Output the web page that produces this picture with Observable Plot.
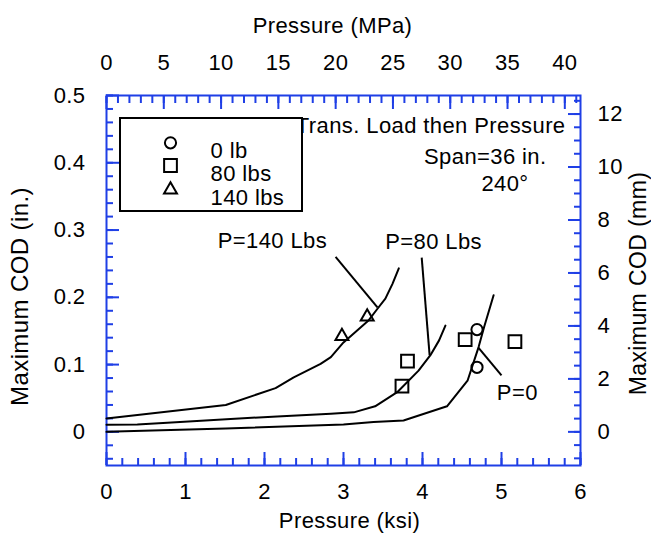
<!DOCTYPE html>
<html><head><meta charset="utf-8">
<script src="https://cdn.jsdelivr.net/npm/d3@7"></script>
<script src="https://cdn.jsdelivr.net/npm/@observablehq/plot@0.6"></script>
<style>body{margin:0;background:#fff} svg{display:block}</style>
</head><body><div id="chart"></div>
<script>
// ---- data ----
const curveP0X   = [0, 1.51, 3.00, 3.38, 3.76, 4.31, 4.57, 4.71, 4.78, 4.90];
const curveP0Y   = [0.0, 0.005, 0.011, 0.0145, 0.017, 0.038, 0.076, 0.126, 0.156, 0.203];
const curveP80X  = [0, 0.39, 0.77, 2.16, 2.84, 3.13, 3.40, 3.68, 3.95, 4.10, 4.21, 4.29];
const curveP80Y  = [0.0105, 0.011, 0.0135, 0.023, 0.027, 0.029, 0.038, 0.059, 0.091, 0.114, 0.136, 0.158];
const curveP140X = [0, 1.51, 2.14, 2.37, 2.71, 2.84, 3.00, 3.32, 3.43, 3.53, 3.62, 3.70];
const curveP140Y = [0.020, 0.040, 0.065, 0.081, 0.101, 0.111, 0.133, 0.166, 0.183, 0.198, 0.220, 0.243];

const load0X   = [4.69, 4.69];
const load0Y   = [0.152, 0.096];
const load80X  = [3.74, 3.81, 4.54, 5.17];
const load80Y  = [0.068, 0.105, 0.137, 0.134];
const load140X = [2.98, 3.30];
const load140Y = [0.142, 0.171];

const legendLabels = ["0 lb", "80 lbs", "140 lbs"];
const annLabels = ["P=140 Lbs", "P=80 Lbs", "P=0"];
const annX = [2.10, 4.14, 5.20];
const annY = [0.2845, 0.2816, 0.0585];
const leadX1 = [2.90, 3.99, 4.71], leadY1 = [0.260, 0.259, 0.125];
const leadX2 = [3.43, 4.09, 5.00], leadY2 = [0.185, 0.114, 0.084];
const noteLines = ["Trans. Load then Pressure", "Span=36 in.", "240°"];

const ksiTicks = [0, 1, 2, 3, 4, 5, 6];
const inTicks = [0, 0.1, 0.2, 0.3, 0.4, 0.5];
const mpaTicks = [0, 5, 10, 15, 20, 25, 30, 35, 40];
const mmTicks = [0, 2, 4, 6, 8, 10, 12];

// ---- derived ----
const MPA = 6.894757, MM = 25.4;
const ksiMinor = d3.range(0, 6.001, 0.2);
const inMinor = d3.range(-0.04, 0.501, 0.02);
const mpaMinor = d3.range(0, 41.5, 1);
const mmMinor = d3.range(-1, 12.51, 0.5);

const rows = [];
[["P=0", curveP0X, curveP0Y], ["P=80", curveP80X, curveP80Y], ["P=140", curveP140X, curveP140Y]]
  .forEach(([s, xs, ys]) => xs.forEach((x, i) => rows.push({s, x, y: ys[i]})));
const pts = (xs, ys) => xs.map((x, i) => ({x, y: ys[i]}));
const ann = annLabels.map((t, i) => ({t, x: annX[i], y: annY[i]}));
const leads = leadX1.map((x1, i) => ({x1, y1: leadY1[i], x2: leadX2[i], y2: leadY2[i]}));

const BLUE = "#1f3fe6";
const FONT = "'Liberation Sans', Arial, Helvetica, sans-serif";
const FS = 22;
const sym = {circle: {symbol: "circle", r: 5.6}, square: {symbol: "square", r: 7.2}, triangle: {symbol: "triangle", r: 4.8}};
const symList = [sym.circle, sym.square, sym.triangle];
const blank = () => "";

const marks = [
  // ticks (inward)
  Plot.axisX(ksiMinor, {anchor: "bottom", tickSize: -7, tickFormat: blank, stroke: BLUE, strokeWidth: 2, label: null}),
  Plot.axisX(ksiTicks, {anchor: "bottom", tickSize: -13, tickFormat: blank, stroke: BLUE, strokeWidth: 2, label: null}),
  Plot.axisY(inMinor, {anchor: "left", tickSize: -7, tickFormat: blank, stroke: BLUE, strokeWidth: 2, label: null}),
  Plot.axisY(inTicks, {anchor: "left", tickSize: -13, tickFormat: blank, stroke: BLUE, strokeWidth: 2, label: null}),
  Plot.axisX(mpaMinor.map(m => m / MPA), {anchor: "top", tickSize: -7, tickFormat: blank, stroke: BLUE, strokeWidth: 2, label: null}),
  Plot.axisX(mpaTicks.map(m => m / MPA), {anchor: "top", tickSize: -13, tickFormat: blank, stroke: BLUE, strokeWidth: 2, label: null}),
  Plot.axisY(mmMinor.map(m => m / MM), {anchor: "right", tickSize: -7, tickFormat: blank, stroke: BLUE, strokeWidth: 2, label: null}),
  Plot.axisY(mmTicks.map(m => m / MM), {anchor: "right", tickSize: -13, tickFormat: blank, stroke: BLUE, strokeWidth: 2, label: null}),
  // tick labels
  Plot.axisX(ksiTicks, {anchor: "bottom", tickSize: 0, tickPadding: 17.5, tickFormat: d => String(d), fill: "black", label: null, fontSize: FS}),
  Plot.axisY(inTicks, {anchor: "left", tickSize: 0, tickPadding: 21, tickFormat: d => String(d), fill: "black", label: null, fontSize: FS}),
  Plot.axisX(mpaTicks.map(m => m / MPA), {anchor: "top", tickSize: 0, tickPadding: 26, tickFormat: d => String(Math.round(d * MPA)), fill: "black", label: null, fontSize: FS}),
  Plot.axisY(mmTicks.map(m => m / MM), {anchor: "right", tickSize: 0, tickPadding: 17, tickFormat: d => String(Math.round(d * MM)), fill: "black", label: null, fontSize: FS}),
  Plot.frame({stroke: BLUE, strokeWidth: 2}),
  // axis titles
  Plot.text(["Pressure (ksi)"], {frameAnchor: "bottom", dx: 6, dy: 62, fontSize: FS}),
  Plot.text(["Pressure (MPa)"], {frameAnchor: "top", dx: -11, dy: -78, fontSize: FS}),
  Plot.text(["Maximum COD (in.)"], {frameAnchor: "left", textAnchor: "middle", rotate: -90, dx: -86, dy: 16, fontSize: 24}),
  Plot.text(["Maximum COD (mm)"], {frameAnchor: "right", textAnchor: "middle", rotate: -90, dx: 58, dy: 3, fontSize: 23}),
  // curves
  Plot.line(rows, {x: "x", y: "y", z: "s", stroke: "black", strokeWidth: 2}),
  // points
  Plot.dot(pts(load0X, load0Y), {x: "x", y: "y", ...sym.circle, stroke: "black", strokeWidth: 2, fill: "none"}),
  Plot.dot(pts(load80X, load80Y), {x: "x", y: "y", ...sym.square, stroke: "black", strokeWidth: 2, fill: "none"}),
  Plot.dot(pts(load140X, load140Y), {x: "x", y: "y", ...sym.triangle, stroke: "black", strokeWidth: 2, fill: "none"}),
  // annotations
  Plot.link(leads, {x1: "x1", y1: "y1", x2: "x2", y2: "y2", stroke: "black", strokeWidth: 2}),
  Plot.text(ann, {x: "x", y: "y", text: "t", fontSize: FS}),
  // notes
  ...noteLines.map((t, i) => Plot.text([t], {frameAnchor: "top-right", textAnchor: "end", dx: [-15, -34, -52][i], dy: [22, 53, 80][i], fontSize: FS})),
  // legend
  Plot.rect([0], {insetLeft: 14, insetTop: 23, insetRight: 278, insetBottom: 254, fill: "white", stroke: "black", strokeWidth: 2}),
  ...legendLabels.flatMap((t, i) => [
    Plot.dot([t], {frameAnchor: "top-left", dx: 64, dy: [47.3, 70, 94.3][i], ...symList[i], stroke: "black", strokeWidth: 2, fill: "none"}),
    Plot.text([t], {frameAnchor: "top-left", textAnchor: "start", dx: 104, dy: [47.3, 70, 94.3][i], fontSize: FS})
  ])
];

const chart = Plot.plot({
  width: 651, height: 540,
  marginLeft: 106, marginRight: 71, marginTop: 95, marginBottom: 75,
  x: {domain: [0, 6], axis: null},
  y: {domain: [-0.05, 0.5], axis: null},
  style: `font-family: ${FONT}; font-size: ${FS}px; letter-spacing: 0.4px; background: white; color: black; overflow: visible;`,
  marks
});
document.getElementById("chart").append(chart);
</script>
</body></html>
